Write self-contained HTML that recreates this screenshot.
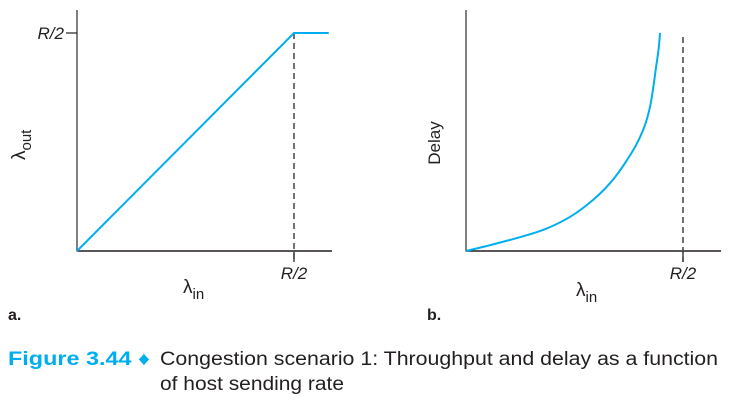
<!DOCTYPE html>
<html><head><meta charset="utf-8"><style>
body{margin:0;background:#fff;}
svg{display:block;font-family:"Liberation Sans",sans-serif;}
</style></head><body>
<svg id="fig" width="746" height="419" viewBox="0 0 746 419">
<g id="chartA"></g>
<g id="chartB"></g>
<text x="8" y="365" font-size="19" font-weight="bold" fill="#00aeef" textLength="142" lengthAdjust="spacingAndGlyphs">Figure 3.44 ♦</text>
<text x="160" y="365" font-size="19" fill="#231f20" textLength="558" lengthAdjust="spacingAndGlyphs">Congestion scenario 1: Throughput and delay as a function</text>
<text x="160" y="390" font-size="19" fill="#231f20" textLength="184" lengthAdjust="spacingAndGlyphs">of host sending rate</text>
</svg>
<script>
// Chart a: throughput (fractions of R/2)
const thrX = [0, 1, 1.16];
const thrY = [0, 1, 1];
// Chart b: delay (x as fraction of R/2, y scaled)
const delayX = [0, 0.203, 0.355, 0.479, 0.585, 0.664, 0.742, 0.816, 0.848, 0.876, 0.894];
const delayY = [0, 0.051, 0.097, 0.157, 0.235, 0.313, 0.419, 0.557, 0.664, 0.848, 1.005];
const tickLabels = ["R/2"];

const NS = "http://www.w3.org/2000/svg";
function mk(parent, tag, attrs){const e=document.createElementNS(NS,tag);for(const k in attrs)e.setAttribute(k,attrs[k]);parent.appendChild(e);return e;}

function axes(g, x0, x1, top, y0, name){
  let e=mk(g,'line',{x1:x0,y1:top,x2:x0,y2:y0+0.5,stroke:'#808080','stroke-width':2});
  
  
  e=mk(g,'line',{x1:x0,y1:y0,x2:x1,y2:y0,stroke:'#231f20','stroke-width':1.5});
  
  
}

// ---- Chart A
(function(){
  const g=document.getElementById('chartA');
  const X0=77, Y0=251, W=217, H=218;
  const sx=v=>X0+v*W, sy=v=>Y0-v*H;
  axes(g,X0,332,10,Y0,'a');
  let e=mk(g,'line',{x1:sx(1),y1:sy(1),x2:sx(1),y2:262,stroke:'#444','stroke-width':1.5,'stroke-dasharray':'6,4'});
  
  
  e=mk(g,'line',{x1:sx(1),y1:Y0,x2:sx(1),y2:262,stroke:'#444','stroke-width':1.5});
  
  
  e=mk(g,'line',{x1:66,y1:sy(1),x2:X0,y2:sy(1),stroke:'#231f20','stroke-width':1.2});
  
  
  e=mk(g,'text',{x:64,y:sy(1)+6,'font-size':17,'font-style':'italic','text-anchor':'end',fill:'#231f20'});
  e.textContent=tickLabels[0];
  
  
  e=mk(g,'text',{x:sx(1),y:279,'font-size':17,'font-style':'italic','text-anchor':'middle',fill:'#231f20'});
  e.textContent=tickLabels[0];
  
  
  e=mk(g,'polyline',{points:thrX.map((v,i)=>sx(v)+','+sy(thrY[i])).join(' '),fill:'none',stroke:'#00aeef','stroke-width':2});
  
  
  e=mk(g,'text',{x:183,y:293,'font-size':19,fill:'#231f20'});
  e.innerHTML='λ<tspan font-size="15" dy="6">in</tspan>';
  
  
  e=mk(g,'text',{x:0,y:0,'font-size':19,fill:'#231f20',transform:'translate(25,160) rotate(-90)'});
  e.innerHTML='λ<tspan font-size="15" dy="6">out</tspan>';
  
  
  e=mk(g,'text',{x:8,y:320,'font-size':16,'font-weight':'bold',fill:'#231f20'});
  e.textContent='a.';
  
  
})();

// ---- Chart B
(function(){
  const g=document.getElementById('chartB');
  const X0=466, Y0=251, W=217, H=217;
  const sx=v=>X0+v*W, sy=v=>Y0-v*H;
  axes(g,X0,721,10,Y0,'b');
  let e=mk(g,'line',{x1:sx(1),y1:37,x2:sx(1),y2:262,stroke:'#444','stroke-width':1.5,'stroke-dasharray':'6,4'});
  
  
  e=mk(g,'line',{x1:sx(1),y1:Y0,x2:sx(1),y2:262,stroke:'#444','stroke-width':1.5});
  
  
  e=mk(g,'text',{x:sx(1),y:279,'font-size':17,'font-style':'italic','text-anchor':'middle',fill:'#231f20'});
  e.textContent=tickLabels[0];
  
  
  // monotone cubic (Fritsch-Carlson) in x
  const n=delayX.length, dk=[], m=[];
  for(let i=0;i<n-1;i++) dk.push((delayY[i+1]-delayY[i])/(delayX[i+1]-delayX[i]));
  m[0]=dk[0]*0.9; m[n-1]=dk[n-2]*1.8;
  for(let i=1;i<n-1;i++){
    const h0=delayX[i]-delayX[i-1], h1=delayX[i+1]-delayX[i];
    m[i]=(dk[i-1]*dk[i]<=0)?0:(3*(h0+h1))/((2*h1+h0)/dk[i-1]+(h1+2*h0)/dk[i]);
  }
  let d='M'+sx(delayX[0])+','+sy(delayY[0]);
  for(let i=0;i<n-1;i++){
    const h=delayX[i+1]-delayX[i];
    d+=' C'+sx(delayX[i]+h/3)+','+sy(delayY[i]+m[i]*h/3)+' '+sx(delayX[i+1]-h/3)+','+sy(delayY[i+1]-m[i+1]*h/3)+' '+sx(delayX[i+1])+','+sy(delayY[i+1]);
  }
  e=mk(g,'path',{d:d,fill:'none',stroke:'#00aeef','stroke-width':2});
  
  
  e=mk(g,'text',{x:576,y:296,'font-size':19,fill:'#231f20'});
  e.innerHTML='λ<tspan font-size="15" dy="6">in</tspan>';
  
  
  e=mk(g,'text',{x:0,y:0,'font-size':17,fill:'#231f20','text-anchor':'middle',transform:'translate(440,143) rotate(-90)'});
  e.textContent='Delay';
  
  
  e=mk(g,'text',{x:427,y:320,'font-size':16,'font-weight':'bold',fill:'#231f20'});
  e.textContent='b.';
  
  
})();
</script>
</body></html>
